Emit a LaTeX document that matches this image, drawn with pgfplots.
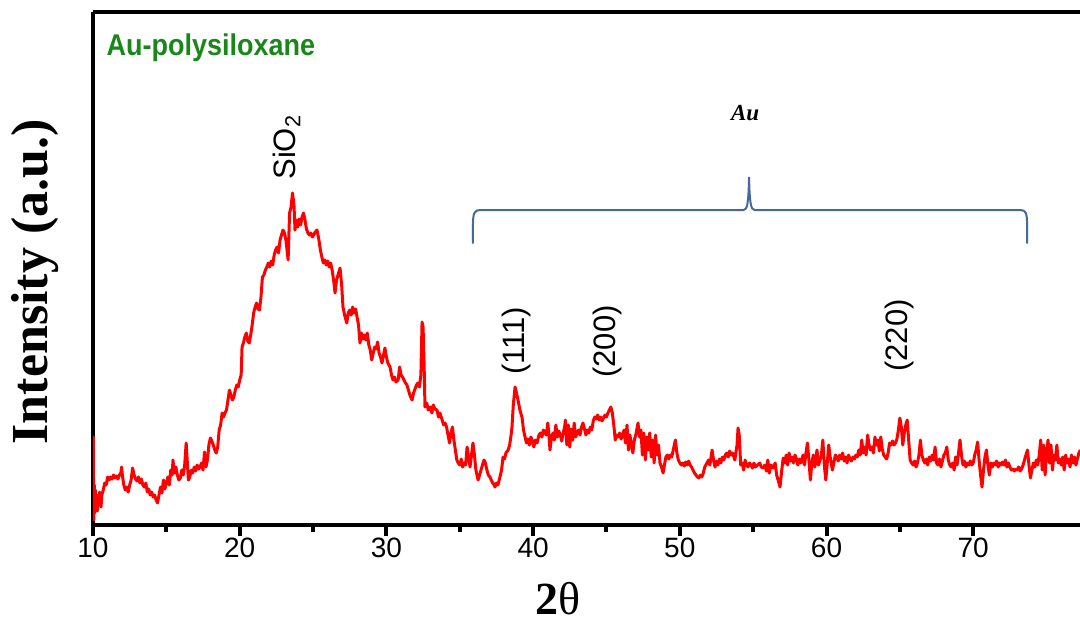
\documentclass[border=0pt]{standalone}
\usepackage{pgfplots}
\pgfplotsset{compat=1.18}
\usepackage{fontspec}
\setmainfont{Liberation Sans}
\newfontfamily\arialf{Liberation Sans}
\newfontfamily\timesf{Liberation Serif}
\definecolor{augreen}{RGB}{26,135,26}
\definecolor{brace}{RGB}{68,106,155}
\begin{document}
\begin{tikzpicture}
\begin{axis}[
  scale only axis,
  width=493.5pt, height=256.5pt,
  xmin=10, xmax=77.28, ymin=0, ymax=513,
  axis lines*=left,
  axis line style={line width=1.7pt,-},
  xtick={10,20,...,70},
  minor x tick num=1,
  ytick=\empty,
  tick align=outside,
  major tick length=5.5pt, minor tick length=3.5pt,
  every tick/.style={line width=2pt,black},
  tick label style={font=\arialf\fontsize{14}{16}\selectfont},
  /pgf/number format/assume math mode=true,
  xticklabel style={yshift=2.5pt},
  clip mode=individual,
]
\addplot[red, line width=1.5pt, line join=round] table {
10.00 60
10.02 88
10.04 30
10.06 5
10.09 40
10.12 12
10.16 35
10.20 18
10.25 30
10.30 14
10.35 28
10.40 20
10.45 33
10.50 25
10.55 18
10.60 30
10.70 35
10.80 42
10.90 40
11.00 48
11.10 45
11.20 48
11.30 46
11.40 50
11.50 47
11.60 49
11.70 46
11.80 50
11.90 52
11.95 58
12.00 50
12.10 40
12.20 35
12.30 38
12.40 33
12.50 40
12.60 45
12.70 57
12.80 50
12.90 46
13.00 44
13.10 48
13.20 42
13.30 46
13.40 40
13.50 38
13.60 42
13.70 33
13.80 36
13.90 30
14.00 33
14.10 28
14.20 30
14.30 25
14.40 22
14.50 30
14.60 38
14.70 32
14.80 45
14.90 36
15.00 42
15.10 48
15.20 40
15.30 55
15.40 50
15.45 65
15.55 52
15.65 58
15.75 50
15.85 45
15.95 47
16.05 55
16.15 50
16.25 60
16.35 82
16.40 70
16.50 45
16.60 48
16.70 55
16.80 52
16.90 58
17.00 54
17.10 60
17.20 56
17.30 58
17.40 62
17.50 55
17.60 73
17.70 58
17.80 65
17.90 80
18.00 87
18.10 84
18.20 80
18.30 75
18.40 72
18.50 78
18.60 95
18.70 100
18.80 112
18.90 108
19.00 112
19.10 115
19.20 125
19.30 135
19.40 130
19.50 125
19.60 128
19.70 135
19.80 140
19.90 138
20.00 145
20.10 150
20.16 178
20.25 182
20.35 188
20.45 192
20.55 184
20.65 182
20.75 190
20.85 200
20.95 212
21.05 218
21.15 222
21.25 216
21.35 215
21.45 228
21.55 248
21.65 250
21.75 255
21.85 258
21.95 262
22.05 258
22.15 264
22.25 260
22.35 270
22.45 275
22.55 278
22.65 272
22.75 285
22.85 290
22.95 295
23.05 292
23.15 285
23.25 272
23.30 265
23.40 312
23.50 318
23.60 332
23.70 320
23.77 295
23.85 305
23.95 298
24.05 306
24.15 300
24.25 308
24.35 312
24.45 305
24.55 296
24.65 292
24.75 290
24.85 292
24.95 288
25.05 290
25.15 293
25.27 295
25.40 285
25.50 275
25.60 268
25.70 262
25.80 265
25.90 260
26.00 264
26.10 258
26.20 262
26.30 255
26.40 245
26.50 232
26.60 245
26.70 250
26.84 257
26.95 240
27.04 218
27.15 210
27.30 202
27.40 212
27.50 215
27.60 210
27.70 218
27.80 212
27.90 216
28.00 208
28.10 200
28.20 182
28.30 192
28.40 186
28.50 190
28.60 185
28.70 192
28.80 180
28.90 175
29.00 165
29.10 172
29.20 178
29.30 176
29.40 183
29.50 172
29.60 168
29.70 162
29.80 170
29.90 177
30.00 168
30.10 162
30.25 158
30.35 150
30.45 145
30.55 148
30.65 143
30.80 145
30.90 158
31.00 150
31.10 148
31.20 145
31.30 142
31.40 140
31.50 135
31.60 130
31.75 125
31.85 132
31.95 136
32.05 140
32.15 142
32.25 138
32.35 150
32.43 203
32.50 198
32.57 160
32.63 118
32.75 122
32.85 115
33.00 118
33.10 112
33.20 120
33.30 116
33.45 115
33.55 108
33.65 112
33.80 105
33.90 100
34.00 102
34.10 98
34.20 90
34.30 82
34.40 92
34.50 98
34.60 85
34.70 75
34.80 65
34.90 62
35.00 60
35.10 66
35.20 58
35.30 62
35.40 60
35.50 78
35.60 68
35.70 58
35.80 70
35.90 82
36.00 70
36.10 55
36.25 45
36.35 50
36.45 55
36.55 60
36.65 65
36.75 62
36.85 55
36.95 50
37.06 48
37.15 45
37.25 42
37.35 40
37.40 38
37.50 42
37.60 40
37.74 48
37.85 55
37.95 68
38.05 66
38.15 72
38.30 75
38.40 80
38.50 90
38.56 98
38.65 120
38.77 138
38.87 132
38.97 125
39.10 115
39.24 108
39.35 95
39.45 88
39.55 82
39.65 86
39.75 80
39.85 88
39.95 84
40.05 78
40.15 85
40.27 82
40.40 90
40.50 92
40.60 88
40.70 95
40.80 92
40.90 90
41.00 102
41.08 90
41.15 75
41.25 88
41.36 92
41.45 85
41.55 100
41.65 88
41.75 94
41.85 90
41.95 84
42.05 92
42.15 98
42.20 105
42.30 80
42.40 100
42.50 78
42.60 96
42.70 85
42.80 102
42.90 88
43.00 92
43.10 95
43.20 90
43.30 98
43.40 102
43.50 96
43.60 90
43.70 95
43.80 92
43.90 98
44.00 95
44.10 104
44.20 108
44.30 106
44.40 110
44.50 105
44.60 108
44.70 104
44.80 107
44.90 110
45.00 108
45.10 112
45.20 115
45.30 118
45.40 112
45.50 100
45.60 85
45.70 90
45.80 88
45.90 92
46.00 86
46.10 90
46.20 95
46.30 82
46.40 100
46.50 75
46.60 90
46.70 80
46.80 72
46.90 85
47.00 90
47.15 102
47.25 88
47.35 95
47.45 70
47.55 92
47.65 65
47.75 88
47.85 75
47.95 92
48.05 68
48.15 85
48.25 62
48.35 90
48.45 70
48.55 80
48.65 62
48.75 58
48.86 52
48.95 60
49.05 68
49.15 70
49.25 66
49.35 70
49.45 68
49.55 75
49.70 85
49.80 72
49.90 65
50.00 62
50.10 60
50.20 62
50.30 59
50.40 63
50.50 60
50.60 64
50.70 60
50.80 58
50.90 55
51.00 52
51.10 50
51.20 48
51.30 47
51.40 50
51.50 48
51.60 52
51.70 58
51.85 62
51.95 65
52.05 60
52.20 75
52.30 65
52.40 58
52.50 64
52.60 60
52.70 66
52.80 62
52.90 68
53.00 65
53.10 70
53.20 72
53.30 68
53.40 74
53.50 70
53.60 72
53.75 65
53.90 80
53.97 97
54.05 90
54.15 60
54.25 62
54.35 55
54.45 65
54.55 60
54.65 58
54.75 62
54.85 60
54.95 57
55.05 62
55.15 58
55.30 60
55.45 62
55.55 58
55.70 57
55.80 60
55.90 54
56.00 65
56.10 52
56.20 60
56.35 57
56.50 62
56.60 50
56.70 45
56.83 38
56.95 55
57.05 67
57.15 62
57.25 70
57.35 60
57.45 72
57.55 64
57.65 68
57.75 62
57.85 70
57.95 66
58.05 60
58.15 66
58.25 62
58.40 70
58.50 60
58.60 72
58.70 82
58.80 65
58.90 45
59.00 62
59.10 70
59.20 58
59.35 75
59.45 60
59.56 65
59.65 70
59.75 85
59.85 60
59.95 45
60.05 62
60.15 80
60.25 68
60.40 55
60.50 62
60.60 70
60.70 68
60.80 64
60.90 70
61.00 66
61.10 72
61.20 64
61.30 68
61.40 62
61.50 70
61.60 66
61.70 64
61.80 68
61.90 66
62.00 70
62.10 68
62.20 75
62.30 70
62.40 85
62.50 72
62.60 78
62.70 70
62.80 90
62.90 80
63.00 75
63.10 78
63.20 72
63.30 88
63.40 80
63.50 85
63.60 74
63.70 88
63.80 76
63.90 70
64.00 68
64.10 66
64.20 72
64.30 82
64.40 80
64.50 84
64.60 80
64.70 82
64.80 86
64.90 95
65.00 107
65.10 98
65.20 80
65.30 92
65.40 100
65.50 105
65.60 85
65.70 65
65.80 62
65.90 60
66.00 64
66.10 58
66.20 62
66.30 70
66.40 85
66.50 70
66.60 65
66.70 62
66.80 66
66.90 60
67.00 68
67.10 64
67.20 70
67.30 65
67.40 78
67.50 62
67.60 60
67.70 66
67.80 58
67.90 64
68.00 70
68.10 72
68.20 78
68.30 65
68.40 60
68.50 58
68.60 62
68.70 55
68.80 68
68.90 60
69.00 72
69.10 85
69.20 70
69.30 60
69.40 64
69.50 58
69.60 62
69.70 60
69.80 64
69.90 60
70.00 62
70.10 70
70.20 75
70.30 83
70.40 65
70.50 50
70.60 38
70.70 55
70.80 68
70.90 75
71.00 60
71.10 50
71.20 62
71.30 58
71.40 62
71.50 60
71.60 64
71.70 58
71.80 62
71.90 60
72.00 63
72.10 60
72.20 65
72.30 58
72.40 62
72.50 58
72.60 55
72.70 56
72.80 54
72.90 56
73.00 55
73.10 58
73.20 54
73.30 56
73.40 60
73.55 68
73.70 75
73.80 60
73.90 47
74.00 55
74.10 62
74.20 58
74.30 65
74.40 60
74.50 70
74.60 85
74.70 55
74.80 80
74.90 50
75.00 72
75.10 85
75.20 62
75.30 80
75.40 55
75.50 70
75.60 65
75.70 80
75.80 62
75.90 66
76.00 60
76.10 68
76.20 55
76.30 70
76.40 62
76.50 66
76.60 58
76.70 70
76.80 62
76.90 68
77.00 60
77.10 66
77.20 72
77.30 75
};
% top frame line (right side of the original is cropped)
\draw[line width=1.7pt] (rel axis cs:0,1) -- (rel axis cs:1,1);
% labels
\node[anchor=west, text=augreen, font=\arialf\bfseries\fontsize{15}{17}\selectfont] at (axis cs:10.45,477) {\scalebox{0.9}[1]{Au-polysiloxane}};
\node[rotate=90, anchor=west, inner sep=0pt, font=\arialf\fontsize{15.5}{17}\selectfont] at (axis cs:23.2,345) {SiO\textsubscript{2}};
\node[rotate=90, anchor=west, inner sep=0pt, font=\arialf\fontsize{15.5}{17}\selectfont] at (axis cs:38.9,150) {(111)};
\node[rotate=90, anchor=west, inner sep=0pt, font=\arialf\fontsize{15.5}{17}\selectfont] at (axis cs:45.1,147) {(200)};
\node[rotate=90, anchor=west, inner sep=0pt, font=\arialf\fontsize{15.5}{17}\selectfont] at (axis cs:65.0,153) {(220)};
\node[font=\timesf\bfseries\itshape\fontsize{11.5}{13}\selectfont] at (axis cs:54.45,412) {Au};
% brace
\draw[brace, line width=1pt, line cap=round]
  (axis cs:35.9,282) -- (axis cs:35.9,300)
  .. controls (axis cs:35.9,312) and (axis cs:36.0,315) .. (axis cs:36.4,315)
  -- (axis cs:54.35,315)
  .. controls (axis cs:54.6,315) and (axis cs:54.68,322) .. (axis cs:54.72,348)
  .. controls (axis cs:54.76,322) and (axis cs:54.84,315) .. (axis cs:55.1,315)
  -- (axis cs:73.2,315)
  .. controls (axis cs:73.6,315) and (axis cs:73.67,312) .. (axis cs:73.67,300)
  -- (axis cs:73.67,282);
% axis titles
\node[inner sep=0pt, font=\timesf\fontsize{23}{26}\selectfont] at ([yshift=-37pt]rel axis cs:0.471,0) {\textbf{2}θ};
\node[rotate=90, font=\timesf\bfseries\fontsize{26}{30}\selectfont] at ([xshift=-29pt]rel axis cs:0,0.474) {Intensity (a.u.)};
\end{axis}
\pgfresetboundingbox
\path (-46.5pt,-49pt) rectangle (493.5pt,262.5pt);
\end{tikzpicture}
\end{document}
